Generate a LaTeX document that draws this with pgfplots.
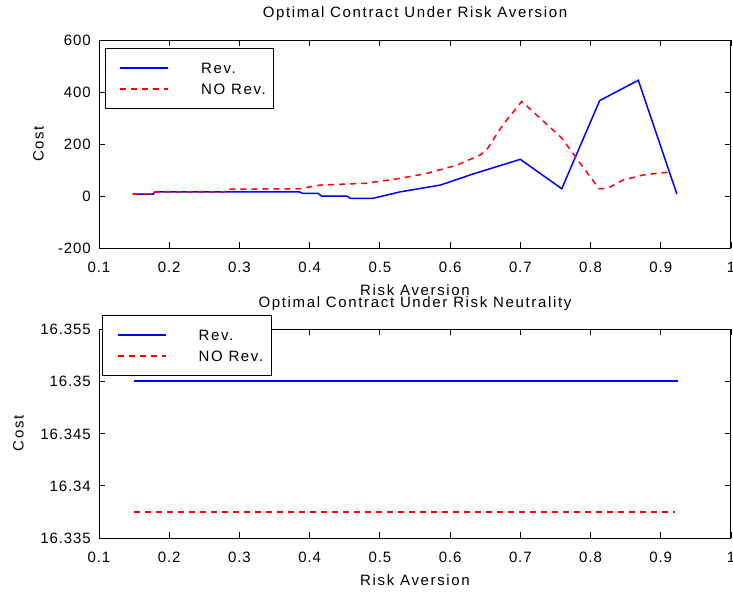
\documentclass[border=0pt]{standalone}
\usepackage{fontspec}
\setmainfont{Liberation Sans}
\newfontfamily\lblfont[LetterSpace=11]{Liberation Sans}
\newfontfamily\tickfont[LetterSpace=6]{Liberation Sans}
\usepackage{pgfplots}
\pgfplotsset{compat=1.18}
\definecolor{mlblue}{HTML}{0000FF}
\definecolor{mlred}{HTML}{FF0000}

\newcommand{\lblsize}{\fontsize{15}{15}\selectfont\lblfont}
\newcommand{\ticksize}{\fontsize{15}{15}\selectfont\tickfont}

\pgfplotsset{
  mlaxis/.style={
    scale only axis, width=632pt,
    xmin=0.1, xmax=1,
    xtick={0.1,0.2,0.3,0.4,0.5,0.6,0.7,0.8,0.9,1},
    axis line style={line width=1pt},
    tick style={line width=0.8pt, black},
    major tick length=6pt,
    tick align=inside,
    /pgf/number format/assume math mode=true,
    tick label style={font=\ticksize, inner sep=0pt, text height=11pt, text depth=0pt},
    xticklabel style={anchor=north, yshift=-13pt},
    yticklabel style={anchor=east, xshift=-8pt},
    label style={font=\lblsize, inner sep=0pt, text height=11pt, text depth=0pt},
    xlabel style={at={(axis description cs:0.5,-0.202)}, anchor=center},
    title style={font=\lblsize, anchor=center, inner sep=0pt, text height=11pt, text depth=0pt},
    legend cell align=left,
    legend image code/.code={\path (0pt,0pt); \draw[#1] (6pt,0pt) -- (54pt,0pt);},
    legend style={draw=black, line width=1.2pt, fill=white, anchor=north west,
      inner xsep=8pt, inner ysep=14pt, row sep=10pt,
      nodes={font=\lblsize, inner sep=0pt, text height=11pt, text depth=0pt},
      /tikz/every odd column/.append style={column sep=32pt}},
  },
  revl/.style={draw=mlblue, line width=1.5pt, solid},
  norevl/.style={draw=mlred, line width=1.5pt, dash pattern=on 6pt off 5pt},
}

\begin{document}
\begin{tikzpicture}
\useasboundingbox (0,0) rectangle (733pt,-595pt);

% risk aversion
\begin{axis}[mlaxis,
  at={(99pt,-248pt)}, anchor=south west, height=208pt,
  ymin=-200, ymax=600, ytick={-200,0,200,400,600},
  title={Optimal Contract Under Risk Aversion},
  title style={at={(axis description cs:0.5,1.106)}},
  xlabel={Risk Aversion}, ylabel={Cost},
  ylabel style={at={(axis description cs:-0.0965,0.5)}, anchor=center},
  legend style={at={(0.0095,0.9615)}},
]
\addplot[revl] coordinates {
 (0.148,7)(0.177,7)(0.18,16)(0.385,16)(0.39,10)(0.412,10)(0.417,0)(0.453,0)
 (0.458,-9)(0.49,-9)(0.529,16)(0.586,42)(0.633,85)(0.70,141)(0.759,28)
 (0.813,367)(0.868,445)(0.923,7)};
\addlegendentry{Rev.}
\addplot[norevl] coordinates {
 (0.148,7)(0.177,7)(0.18,16)(0.279,16)(0.282,26)(0.386,28)(0.415,42)(0.48,49)
 (0.529,68)(0.567,87)(0.61,119)(0.643,158)(0.652,177)(0.675,273)(0.702,364)
 (0.759,223)(0.782,138)(0.812,28)(0.823,28)(0.846,61)(0.875,81)(0.912,92)};
\addlegendentry{NO Rev.}
\end{axis}

% risk neutrality
\begin{axis}[mlaxis,
  at={(99pt,-538pt)}, anchor=south west, height=209pt,
  ymin=16.335, ymax=16.355, ytick={16.335,16.34,16.345,16.35,16.355},
  yticklabel style={/pgf/number format/fixed, /pgf/number format/precision=3},
  title={Optimal Contract Under Risk Neutrality},
  title style={at={(axis description cs:0.5,1.100)}},
  xlabel={Risk Aversion}, ylabel={Cost},
  xlabel style={at={(axis description cs:0.5,-0.2)}},
  ylabel style={at={(axis description cs:-0.128,0.5)}, anchor=center},
  legend style={at={(0.005,1.067)}},
  clip=false,
]
\addplot[revl, line width=1.8pt, line cap=butt] coordinates {(0.15,16.35)(0.925,16.35)};
\addlegendentry{Rev.}
\addplot[norevl] coordinates {(0.15,16.3375)(0.92,16.3375)};
\addlegendentry{NO Rev.}
\end{axis}
\end{tikzpicture}
\end{document}
